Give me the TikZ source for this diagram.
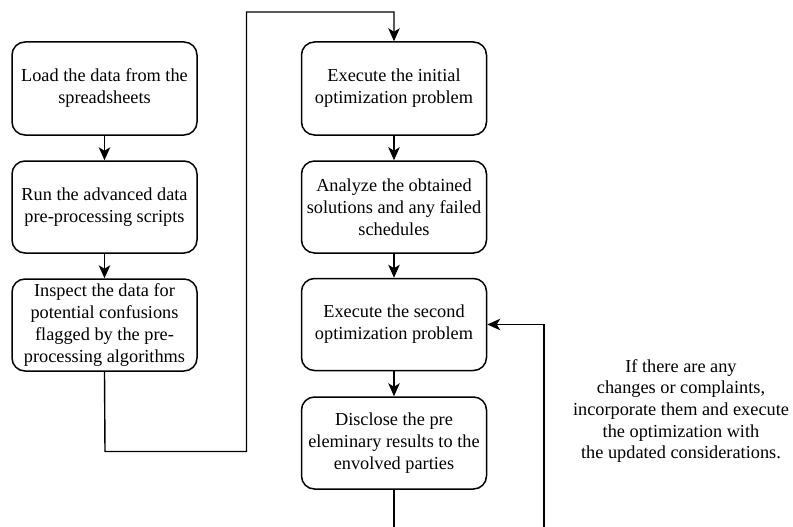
\documentclass[tikz,border=0pt]{standalone}
\usepackage{fontspec}
\setmainfont{Liberation Serif}
\newfontfamily\tnrfont{Liberation Serif}
\usetikzlibrary{arrows.meta}
\begin{document}
\begin{tikzpicture}[x=1pt,y=-1pt,
  stepbox/.style={draw=black, line width=1.5pt, rounded corners=13pt,
    minimum width=185pt, minimum height=92pt, inner sep=0pt,
    align=center, font=\tnrfont\fontsize{18.3pt}{22pt}\selectfont},
  conn/.style={draw=black, line width=1.4pt, -{Stealth[length=13pt,width=11.5pt,inset=3.5pt]}},
  note/.style={align=center, font=\tnrfont\fontsize{18.3pt}{21.7pt}\selectfont}]
\useasboundingbox (0,0) rectangle (793,527);
\node[stepbox, minimum height=93pt] (l1) at (104.5,88.5) {Load the data from the\\spreadsheets};
\node[stepbox] (l2) at (104.5,207) {Run the advanced data\\pre-processing scripts};
\node[stepbox] (l3) at (104.5,325) {Inspect the data for\\potential confusions\\flagged by the pre-\\processing algorithms};
\node[stepbox, minimum height=93pt] (r1) at (394,88.5) {Execute the initial\\optimization problem};
\node[stepbox] (r2) at (394,207) {Analyze the obtained\\solutions and any failed\\schedules};
\node[stepbox] (r3) at (394,324.5) {Execute the second\\optimization problem};
\node[stepbox] (r4) at (394,443) {Disclose the pre\\eleminary results to the\\envolved parties};
\node[note] (n) at (681,411) {If there are any\\changes or complaints,\\incorporate them and execute\\the optimization with\\the updated considerations.};
\coordinate (c1) at (105,451.5);
\coordinate (c2) at (246.5,451.5);
\coordinate (c3) at (246.5,12);
\coordinate (c4) at (394,12);
\coordinate (d1) at (394,540);
\coordinate (d2) at (544,540);
\coordinate (d3) at (544,324.5);
\draw[conn] (l1) -- (l2);
\draw[conn] (l2) -- (l3);
\draw[conn] (l3.south) -- (c1) -- (c2) -- (c3) -- (c4) -- (r1.north);
\draw[conn] (r1) -- (r2);
\draw[conn] (r2) -- (r3);
\draw[conn] (r3) -- (r4);
\draw[conn] (r4.south) -- (d1) -- (d2) -- (d3) -- (r3.east);
\end{tikzpicture}
\end{document}
